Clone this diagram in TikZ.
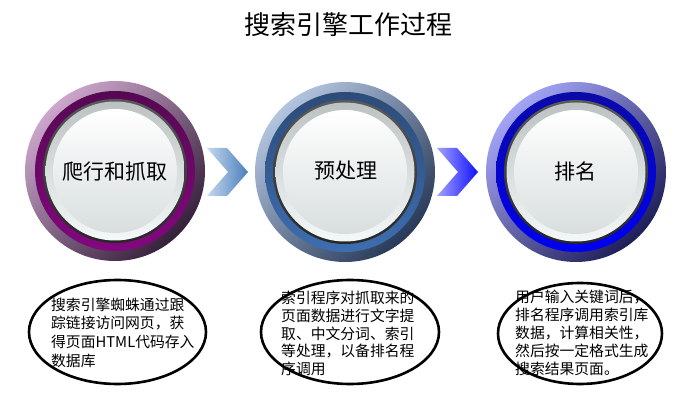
\documentclass[tikz,border=0pt]{standalone}
\usepackage{fontspec}
\newfontfamily\cjk{Noto Sans CJK SC}
\usetikzlibrary{shapes.geometric}
\definecolor{puL}{HTML}{CCA6CC}
\definecolor{puM}{HTML}{7A2E72}
\definecolor{puD}{HTML}{35203A}
\definecolor{puT}{HTML}{560852}
\definecolor{puB}{HTML}{82087E}
\definecolor{blL}{HTML}{B2C4DE}
\definecolor{blM}{HTML}{4A6E9E}
\definecolor{blD}{HTML}{283A58}
\definecolor{blT}{HTML}{2C4B78}
\definecolor{blB}{HTML}{3D6EB0}
\definecolor{inL}{HTML}{A4A4F6}
\definecolor{inM}{HTML}{2A2AC8}
\definecolor{inD}{HTML}{1E1E58}
\definecolor{inT}{HTML}{0A0AA8}
\definecolor{inB}{HTML}{0000F0}
\definecolor{bevT}{HTML}{BCC2C2}
\definecolor{bevB}{HTML}{F4F8F8}
\definecolor{diskB}{HTML}{D8DEDE}
\definecolor{chAa}{HTML}{C6D8EE}
\definecolor{chAb}{HTML}{4A7EBC}
\definecolor{chBa}{HTML}{A2A2FF}
\definecolor{chBb}{HTML}{1010FF}
\newcommand\mybtn[8]{%
  \shade[top color=#3, middle color=#4, bottom color=#5, shading angle=45] (#1,#2) circle[radius=90];
  \shade[top color=#6, bottom color=#7] (#1,#2) circle[radius=80];
  \shade[top color=black!65, bottom color=black!85] (#1,#2) circle[radius=72];
  \shade[top color=bevT, bottom color=bevB] (#1,#2) circle[radius=69.5];
  \shade[top color=white, bottom color=diskB] (#1,#2) circle[radius=62];
  \node[lbl] (#8) at (#1,#2) {};
}
\begin{document}
\begin{tikzpicture}[x=1pt,y=-1pt,
  titletext/.style={font=\cjk\fontsize{26}{30}\selectfont, inner sep=0pt},
  lbl/.style={font=\cjk\fontsize{21}{24}\selectfont, inner sep=0pt, text=black},
  desc/.style={align=left, anchor=north west, inner sep=0pt},
  bubble/.style={ellipse, draw=black, line width=2.6pt, inner sep=0pt}]
\useasboundingbox (0,0) rectangle (681,401);
\fill[white] (0,0) rectangle (681,401);

\node[titletext] (title) at (348.5,25) {搜索引擎工作过程};

\mybtn{115}{171}{puL}{puM}{puD}{puT}{puB}{b1}
\mybtn{345}{172}{blL}{blM}{blD}{blT}{blB}{b2}
\mybtn{576}{172}{inL}{inM}{inD}{inT}{inB}{b3}

\node[lbl] (l1) at (115,172) {爬行和抓取};
\node[lbl] (l2) at (345.5,171) {预处理};
\node[lbl] (l3) at (575,171) {排名};

\shade[left color=chAa, right color=chAb] (207,148) -- (227,148) -- (248,172) -- (227,196) -- (207,196) -- (228,172) -- cycle;
\shade[left color=chBa, right color=chBb] (437,148) -- (457,148) -- (478,172) -- (457,196) -- (437,196) -- (458,172) -- cycle;

\node[bubble, minimum width=177, minimum height=104] (e1) at (117.5,332) {};
\node[bubble, minimum width=178, minimum height=104] (e2) at (350,332) {};
\node[bubble, minimum width=164, minimum height=101] (e3) at (580,333.5) {};

\node[desc, font=\cjk\fontsize{14.8}{18.7}\selectfont] (t1) at (51,297.5) {搜索引擎蜘蛛通过跟\\踪链接访问网页，获\\得页面HTML代码存入\\数据库};
\node[desc, font=\cjk\fontsize{14.8}{17.9}\selectfont] (t2) at (281,290.5) {索引程序对抓取来的\\页面数据进行文字提\\取、中文分词、索引\\等处理，以备排名程\\序调用};
\node[desc, font=\cjk\fontsize{14.8}{18.1}\selectfont] (t3) at (515,289.5) {用户输入关键词后，\\排名程序调用索引库\\数据，计算相关性，\\然后按一定格式生成\\搜索结果页面。};
\end{tikzpicture}
\end{document}
